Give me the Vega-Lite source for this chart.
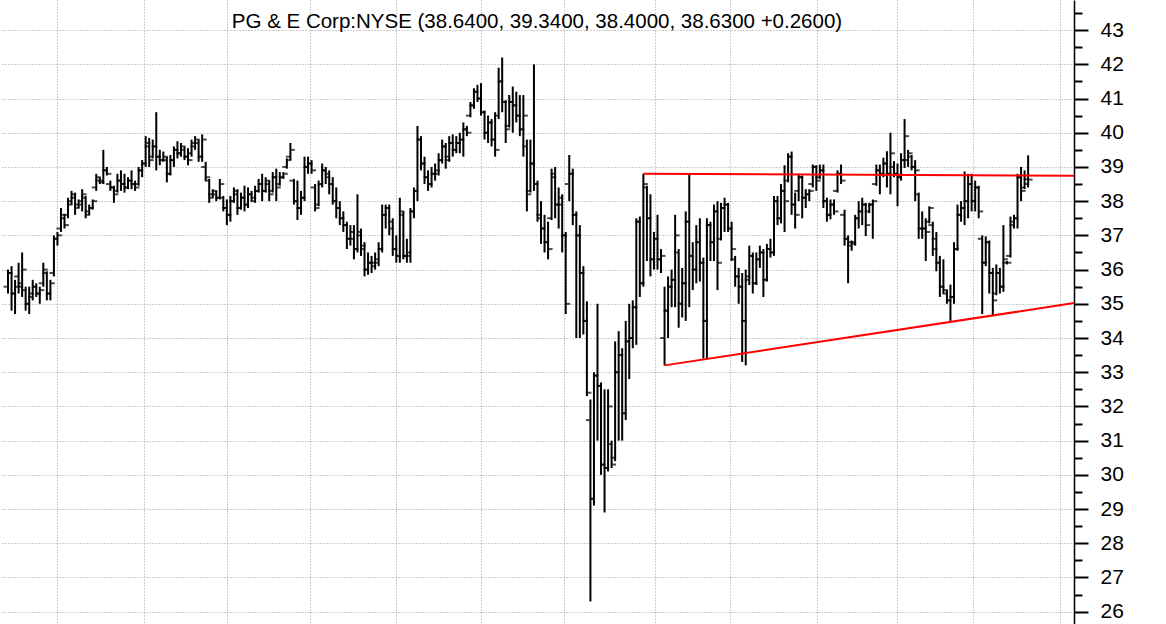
{
  "$schema": "https://vega.github.io/schema/vega-lite/v6.json",
  "width": 1074,
  "height": 624,
  "autosize": "none",
  "padding": {"left": 0, "top": 0, "right": 92, "bottom": 0},
  "background": "white",
  "config": {"view": {"stroke": null}},
  "title": {"text": "PG & E Corp:NYSE (38.6400, 39.3400, 38.4000, 38.6300 +0.2600)", "font": "Liberation Sans", "fontSize": 20.5, "fontWeight": "normal", "color": "black", "anchor": "middle", "offset": -52, "baseline": "bottom"},
  "datasets": {
    "bars": [
{"i":0,"o":35.5,"h":36.0,"l":35.3,"c":35.9},{"i":1,"o":35.9,"h":36.1,"l":34.8,"c":35.3},{"i":2,"o":35.3,"h":35.7,"l":34.7,"c":35.5},{"i":3,"o":35.8,"h":36.2,"l":35.3,"c":35.5},{"i":4,"o":35.6,"h":36.5,"l":35.2,"c":36.0},{"i":5,"o":35.4,"h":35.5,"l":34.8,"c":35.0},{"i":6,"o":35.0,"h":35.5,"l":34.7,"c":35.3},{"i":7,"o":35.2,"h":35.7,"l":35.1,"c":35.5},{"i":8,"o":35.5,"h":35.6,"l":35.2,"c":35.3},{"i":9,"o":35.3,"h":35.5,"l":35.0,"c":35.4},
{"i":10,"o":35.6,"h":36.2,"l":35.5,"c":36.0},{"i":11,"o":35.9,"h":35.95,"l":35.1,"c":35.3},{"i":12,"o":35.3,"h":35.7,"l":35.1,"c":35.6},{"i":13,"o":35.9,"h":37.0,"l":35.8,"c":36.9},{"i":14,"o":36.9,"h":37.1,"l":36.7,"c":37.0},{"i":15,"o":37.2,"h":37.8,"l":37.1,"c":37.6},{"i":16,"o":37.5,"h":37.6,"l":37.2,"c":37.3},{"i":17,"o":37.6,"h":38.1,"l":37.5,"c":37.9},{"i":18,"o":38.0,"h":38.3,"l":37.9,"c":38.2},{"i":19,"o":38.1,"h":38.25,"l":37.6,"c":37.8},
{"i":20,"o":37.9,"h":38.05,"l":37.8,"c":38.0},{"i":21,"o":37.9,"h":38.35,"l":37.7,"c":38.2},{"i":22,"o":38.1,"h":38.15,"l":37.5,"c":37.6},{"i":23,"o":37.7,"h":37.9,"l":37.6,"c":37.8},{"i":24,"o":37.8,"h":38.05,"l":37.75,"c":38.0},{"i":25,"o":38.4,"h":38.8,"l":38.3,"c":38.7},{"i":26,"o":38.6,"h":38.7,"l":38.5,"c":38.55},{"i":27,"o":38.6,"h":39.5,"l":38.5,"c":38.9},{"i":28,"o":38.9,"h":39.0,"l":38.75,"c":38.8},{"i":29,"o":38.5,"h":38.6,"l":38.3,"c":38.4},
{"i":30,"o":38.4,"h":38.45,"l":37.95,"c":38.2},{"i":31,"o":38.3,"h":38.8,"l":38.25,"c":38.6},{"i":32,"o":38.6,"h":38.9,"l":38.3,"c":38.5},{"i":33,"o":38.5,"h":38.8,"l":38.25,"c":38.4},{"i":34,"o":38.4,"h":38.7,"l":38.35,"c":38.6},{"i":35,"o":38.6,"h":38.9,"l":38.35,"c":38.5},{"i":36,"o":38.5,"h":38.6,"l":38.3,"c":38.4},{"i":37,"o":38.5,"h":39.0,"l":38.45,"c":38.9},{"i":38,"o":38.9,"h":39.2,"l":38.7,"c":39.1},{"i":39,"o":39.1,"h":39.9,"l":39.0,"c":39.7},
{"i":40,"o":39.6,"h":39.85,"l":39.0,"c":39.2},{"i":41,"o":39.3,"h":39.8,"l":39.25,"c":39.6},{"i":42,"o":39.6,"h":40.6,"l":38.9,"c":39.3},{"i":43,"o":39.3,"h":39.5,"l":39.05,"c":39.2},{"i":44,"o":39.2,"h":39.45,"l":39.15,"c":39.3},{"i":45,"o":39.2,"h":39.3,"l":38.55,"c":38.8},{"i":46,"o":38.8,"h":39.35,"l":38.75,"c":39.2},{"i":47,"o":39.2,"h":39.6,"l":39.0,"c":39.5},{"i":48,"o":39.5,"h":39.75,"l":39.25,"c":39.4},{"i":49,"o":39.4,"h":39.7,"l":39.3,"c":39.6},
{"i":50,"o":39.5,"h":39.6,"l":39.2,"c":39.3},{"i":51,"o":39.3,"h":39.55,"l":39.05,"c":39.2},{"i":52,"o":39.4,"h":39.8,"l":39.3,"c":39.7},{"i":53,"o":39.6,"h":39.9,"l":39.5,"c":39.8},{"i":54,"o":39.7,"h":39.8,"l":39.15,"c":39.3},{"i":55,"o":39.3,"h":39.95,"l":39.15,"c":39.8},{"i":56,"o":39.0,"h":39.15,"l":38.6,"c":38.7},{"i":57,"o":38.6,"h":38.65,"l":37.95,"c":38.1},{"i":58,"o":38.2,"h":38.35,"l":38.1,"c":38.3},{"i":59,"o":38.2,"h":38.3,"l":38.0,"c":38.1},
{"i":60,"o":38.1,"h":38.65,"l":38.05,"c":38.5},{"i":61,"o":38.1,"h":38.15,"l":37.7,"c":37.8},{"i":62,"o":37.8,"h":38.05,"l":37.3,"c":37.6},{"i":63,"o":37.6,"h":38.15,"l":37.4,"c":38.0},{"i":64,"o":38.0,"h":38.4,"l":37.95,"c":38.3},{"i":65,"o":38.2,"h":38.35,"l":37.6,"c":37.8},{"i":66,"o":37.8,"h":38.25,"l":37.75,"c":38.1},{"i":67,"o":38.1,"h":38.45,"l":37.7,"c":37.9},{"i":68,"o":37.9,"h":38.4,"l":37.8,"c":38.2},{"i":69,"o":38.2,"h":38.3,"l":38.0,"c":38.1},
{"i":70,"o":38.0,"h":38.45,"l":37.95,"c":38.3},{"i":71,"o":38.3,"h":38.65,"l":38.25,"c":38.5},{"i":72,"o":38.5,"h":38.8,"l":38.0,"c":38.3},{"i":73,"o":38.3,"h":38.7,"l":38.25,"c":38.6},{"i":74,"o":38.5,"h":38.6,"l":38.0,"c":38.2},{"i":75,"o":38.3,"h":38.85,"l":38.25,"c":38.7},{"i":76,"o":38.7,"h":38.95,"l":38.0,"c":38.4},{"i":77,"o":38.5,"h":38.85,"l":38.45,"c":38.7},{"i":78,"o":38.7,"h":38.85,"l":38.65,"c":38.8},{"i":79,"o":39.0,"h":39.25,"l":38.95,"c":39.2},
{"i":80,"o":39.3,"h":39.7,"l":39.2,"c":39.5},{"i":81,"o":38.6,"h":38.65,"l":37.9,"c":38.0},{"i":82,"o":38.0,"h":38.6,"l":37.45,"c":37.8},{"i":83,"o":37.8,"h":38.3,"l":37.6,"c":38.1},{"i":84,"o":38.1,"h":39.3,"l":38.0,"c":39.0},{"i":85,"o":39.0,"h":39.3,"l":38.8,"c":39.1},{"i":86,"o":39.1,"h":39.2,"l":38.8,"c":38.9},{"i":87,"o":38.4,"h":38.5,"l":37.7,"c":37.8},{"i":88,"o":37.9,"h":38.6,"l":37.85,"c":38.5},{"i":89,"o":38.5,"h":39.1,"l":38.4,"c":38.9},
{"i":90,"o":38.9,"h":39.0,"l":38.5,"c":38.7},{"i":91,"o":38.8,"h":38.9,"l":38.2,"c":38.5},{"i":92,"o":38.5,"h":38.7,"l":37.9,"c":38.0},{"i":93,"o":38.0,"h":38.4,"l":37.5,"c":37.8},{"i":94,"o":37.8,"h":38.0,"l":37.3,"c":37.5},{"i":95,"o":37.5,"h":37.7,"l":37.1,"c":37.3},{"i":96,"o":37.3,"h":37.4,"l":36.6,"c":36.9},{"i":97,"o":36.9,"h":37.3,"l":36.7,"c":37.1},{"i":98,"o":36.9,"h":37.3,"l":36.3,"c":36.6},{"i":99,"o":36.6,"h":38.2,"l":36.5,"c":37.1},
{"i":100,"o":37.0,"h":37.2,"l":36.4,"c":36.7},{"i":101,"o":36.6,"h":36.8,"l":35.8,"c":36.0},{"i":102,"o":36.0,"h":36.5,"l":35.85,"c":36.2},{"i":103,"o":36.2,"h":36.4,"l":35.9,"c":36.1},{"i":104,"o":36.2,"h":36.5,"l":36.0,"c":36.3},{"i":105,"o":36.2,"h":36.8,"l":36.1,"c":36.6},{"i":106,"o":36.6,"h":37.9,"l":36.5,"c":37.6},{"i":107,"o":37.6,"h":37.9,"l":37.2,"c":37.8},{"i":108,"o":37.8,"h":37.9,"l":37.0,"c":37.2},{"i":109,"o":37.4,"h":37.5,"l":36.4,"c":36.6},
{"i":110,"o":36.6,"h":37.0,"l":36.2,"c":36.4},{"i":111,"o":36.4,"h":38.1,"l":36.2,"c":37.7},{"i":112,"o":37.6,"h":37.7,"l":36.3,"c":36.4},{"i":113,"o":36.4,"h":36.9,"l":36.2,"c":36.5},{"i":114,"o":36.4,"h":37.8,"l":36.2,"c":37.7},{"i":115,"o":37.7,"h":38.4,"l":37.5,"c":38.3},{"i":116,"o":38.3,"h":40.2,"l":38.0,"c":39.8},{"i":117,"o":39.8,"h":39.9,"l":38.9,"c":39.1},{"i":118,"o":39.1,"h":39.3,"l":38.5,"c":38.7},{"i":119,"o":38.7,"h":38.9,"l":38.3,"c":38.5},
{"i":120,"o":38.5,"h":39.0,"l":38.4,"c":38.8},{"i":121,"o":38.8,"h":39.1,"l":38.6,"c":38.9},{"i":122,"o":38.8,"h":39.4,"l":38.75,"c":39.2},{"i":123,"o":39.2,"h":39.8,"l":39.1,"c":39.6},{"i":124,"o":39.6,"h":39.7,"l":38.95,"c":39.2},{"i":125,"o":39.3,"h":39.9,"l":39.15,"c":39.7},{"i":126,"o":39.7,"h":39.95,"l":39.3,"c":39.5},{"i":127,"o":39.5,"h":39.9,"l":39.4,"c":39.7},{"i":128,"o":39.7,"h":40.0,"l":39.4,"c":39.8},{"i":129,"o":39.8,"h":40.3,"l":39.3,"c":40.1},
{"i":130,"o":40.1,"h":40.2,"l":39.9,"c":40.0},{"i":131,"o":40.5,"h":40.9,"l":40.45,"c":40.8},{"i":132,"o":40.8,"h":41.3,"l":40.7,"c":41.2},{"i":133,"o":41.2,"h":41.4,"l":40.9,"c":41.0},{"i":134,"o":41.0,"h":41.45,"l":40.5,"c":40.6},{"i":135,"o":40.6,"h":40.65,"l":39.8,"c":40.0},{"i":136,"o":40.0,"h":40.5,"l":39.7,"c":40.3},{"i":137,"o":40.3,"h":40.4,"l":39.6,"c":39.8},{"i":138,"o":39.8,"h":40.6,"l":39.3,"c":39.5},{"i":139,"o":40.5,"h":41.9,"l":40.4,"c":41.5},
{"i":140,"o":41.5,"h":42.2,"l":40.6,"c":40.9},{"i":141,"o":40.9,"h":40.95,"l":39.7,"c":40.1},{"i":142,"o":40.2,"h":41.1,"l":40.15,"c":40.9},{"i":143,"o":40.9,"h":41.35,"l":40.0,"c":40.8},{"i":144,"o":40.8,"h":41.2,"l":40.3,"c":40.5},{"i":145,"o":40.5,"h":41.1,"l":39.9,"c":40.1},{"i":146,"o":40.1,"h":41.1,"l":39.3,"c":40.5},{"i":147,"o":39.6,"h":39.8,"l":37.7,"c":38.2},{"i":148,"o":38.3,"h":39.8,"l":38.25,"c":39.1},{"i":149,"o":39.1,"h":42.0,"l":38.3,"c":38.5},
{"i":150,"o":38.5,"h":38.6,"l":37.4,"c":37.5},{"i":151,"o":37.6,"h":38.0,"l":36.75,"c":37.2},{"i":152,"o":37.2,"h":37.6,"l":36.5,"c":36.8},{"i":153,"o":36.8,"h":37.4,"l":36.3,"c":36.6},{"i":154,"o":37.5,"h":38.95,"l":37.45,"c":38.7},{"i":155,"o":38.8,"h":39.0,"l":37.5,"c":37.9},{"i":156,"o":37.9,"h":38.4,"l":37.2,"c":38.1},{"i":157,"o":37.9,"h":38.2,"l":36.5,"c":37.0},{"i":158,"o":37.0,"h":37.1,"l":34.7,"c":35.0},{"i":159,"o":38.5,"h":39.35,"l":38.0,"c":38.8},
{"i":160,"o":38.8,"h":38.95,"l":37.3,"c":37.6},{"i":161,"o":37.6,"h":37.7,"l":34.0,"c":37.0},{"i":162,"o":37.0,"h":37.3,"l":34.0,"c":35.9},{"i":163,"o":35.9,"h":36.1,"l":34.1,"c":34.5},{"i":164,"o":34.5,"h":35.07,"l":32.3,"c":32.4},{"i":165,"o":31.6,"h":32.2,"l":26.3,"c":29.3},{"i":166,"o":29.3,"h":33.0,"l":29.1,"c":32.9},{"i":167,"o":32.9,"h":35.0,"l":31.0,"c":32.6},{"i":168,"o":32.6,"h":32.7,"l":30.0,"c":30.3},{"i":169,"o":30.3,"h":32.5,"l":28.9,"c":30.2},
{"i":170,"o":30.2,"h":32.5,"l":30.1,"c":32.0},{"i":171,"o":30.9,"h":31.0,"l":30.2,"c":30.3},{"i":172,"o":30.5,"h":33.9,"l":30.4,"c":33.0},{"i":173,"o":33.0,"h":34.2,"l":31.0,"c":33.5},{"i":174,"o":33.5,"h":33.7,"l":31.0,"c":31.8},{"i":175,"o":31.8,"h":34.5,"l":31.6,"c":33.9},{"i":176,"o":33.9,"h":35.0,"l":32.8,"c":34.0},{"i":177,"o":34.0,"h":35.1,"l":33.7,"c":34.9},{"i":178,"o":34.9,"h":37.5,"l":33.8,"c":37.4},{"i":179,"o":37.4,"h":37.55,"l":35.2,"c":35.6},
{"i":180,"o":35.6,"h":38.8,"l":35.5,"c":38.5},{"i":181,"o":38.4,"h":38.45,"l":36.25,"c":37.5},{"i":182,"o":37.5,"h":38.2,"l":35.8,"c":36.3},{"i":183,"o":36.3,"h":37.1,"l":36.0,"c":36.9},{"i":184,"o":36.9,"h":37.6,"l":36.0,"c":36.3},{"i":185,"o":36.3,"h":36.6,"l":35.9,"c":36.4},{"i":186,"o":34.0,"h":35.5,"l":33.2,"c":34.8},{"i":187,"o":34.8,"h":35.8,"l":34.0,"c":35.5},{"i":188,"o":35.5,"h":36.0,"l":34.9,"c":35.7},{"i":189,"o":35.7,"h":37.6,"l":34.9,"c":37.0},
{"i":190,"o":36.5,"h":36.6,"l":34.3,"c":35.0},{"i":191,"o":35.0,"h":36.05,"l":34.6,"c":35.6},{"i":192,"o":35.6,"h":37.7,"l":34.5,"c":37.4},{"i":193,"o":37.4,"h":38.8,"l":34.9,"c":36.4},{"i":194,"o":36.4,"h":36.8,"l":35.4,"c":36.0},{"i":195,"o":36.0,"h":37.3,"l":35.6,"c":36.8},{"i":196,"o":36.8,"h":37.5,"l":35.65,"c":36.2},{"i":197,"o":36.2,"h":36.35,"l":33.4,"c":34.5},{"i":198,"o":34.5,"h":37.5,"l":33.4,"c":37.3},{"i":199,"o":37.3,"h":37.4,"l":36.25,"c":36.8},
{"i":200,"o":36.8,"h":37.9,"l":36.25,"c":37.7},{"i":201,"o":37.7,"h":38.0,"l":35.4,"c":36.2},{"i":202,"o":36.9,"h":37.95,"l":36.85,"c":37.8},{"i":203,"o":37.8,"h":38.1,"l":37.1,"c":37.9},{"i":204,"o":37.9,"h":37.95,"l":37.1,"c":37.2},{"i":205,"o":37.2,"h":37.4,"l":36.25,"c":36.6},{"i":206,"o":36.3,"h":36.4,"l":35.5,"c":35.8},{"i":207,"o":35.8,"h":36.05,"l":35.0,"c":35.5},{"i":208,"o":35.5,"h":35.9,"l":33.3,"c":34.5},{"i":209,"o":34.5,"h":36.0,"l":33.2,"c":35.8},
{"i":210,"o":35.7,"h":36.7,"l":35.55,"c":36.4},{"i":211,"o":36.4,"h":36.5,"l":35.3,"c":35.6},{"i":212,"o":35.6,"h":36.5,"l":35.55,"c":36.3},{"i":213,"o":36.3,"h":36.7,"l":36.05,"c":36.5},{"i":214,"o":36.5,"h":36.6,"l":35.2,"c":35.7},{"i":215,"o":35.7,"h":36.75,"l":35.65,"c":36.6},{"i":216,"o":36.6,"h":36.9,"l":36.35,"c":36.5},{"i":217,"o":36.5,"h":38.15,"l":36.4,"c":38.0},{"i":218,"o":38.0,"h":38.15,"l":37.3,"c":37.5},{"i":219,"o":37.5,"h":38.5,"l":37.35,"c":38.3},
{"i":220,"o":38.3,"h":39.05,"l":37.1,"c":38.0},{"i":221,"o":38.6,"h":39.4,"l":38.55,"c":39.3},{"i":222,"o":39.3,"h":39.45,"l":37.6,"c":37.9},{"i":223,"o":37.9,"h":38.25,"l":37.2,"c":37.6},{"i":224,"o":38.3,"h":38.8,"l":38.0,"c":38.7},{"i":225,"o":38.7,"h":38.75,"l":37.5,"c":38.1},{"i":226,"o":38.1,"h":38.35,"l":37.8,"c":38.2},{"i":227,"o":38.2,"h":38.35,"l":38.0,"c":38.3},{"i":228,"o":38.5,"h":39.07,"l":38.4,"c":39.0},{"i":229,"o":39.0,"h":39.05,"l":38.3,"c":38.6},
{"i":230,"o":38.7,"h":39.07,"l":38.65,"c":38.9},{"i":231,"o":38.9,"h":39.07,"l":37.8,"c":38.0},{"i":232,"o":38.0,"h":38.1,"l":37.4,"c":37.6},{"i":233,"o":37.6,"h":38.05,"l":37.47,"c":37.9},{"i":234,"o":37.9,"h":38.05,"l":37.6,"c":37.7},{"i":235,"o":38.3,"h":38.9,"l":38.25,"c":38.8},{"i":236,"o":38.8,"h":39.07,"l":38.5,"c":38.6},{"i":237,"o":37.6,"h":37.75,"l":36.7,"c":36.9},{"i":238,"o":36.9,"h":37.0,"l":35.6,"c":36.8},{"i":239,"o":36.7,"h":36.85,"l":36.55,"c":36.75},
{"i":240,"o":36.8,"h":37.6,"l":36.7,"c":37.5},{"i":241,"o":37.5,"h":38.0,"l":37.2,"c":37.7},{"i":242,"o":37.7,"h":38.1,"l":37.3,"c":37.9},{"i":243,"o":37.9,"h":37.95,"l":36.98,"c":37.3},{"i":244,"o":37.7,"h":37.95,"l":37.65,"c":37.9},{"i":245,"o":37.9,"h":38.05,"l":36.9,"c":38.0},{"i":246,"o":38.5,"h":39.07,"l":38.45,"c":38.9},{"i":247,"o":38.9,"h":39.07,"l":38.2,"c":38.8},{"i":248,"o":38.8,"h":39.27,"l":38.7,"c":39.1},{"i":249,"o":39.1,"h":39.46,"l":38.4,"c":38.8},
{"i":250,"o":38.8,"h":40.0,"l":38.2,"c":39.4},{"i":251,"o":39.0,"h":39.17,"l":38.7,"c":38.8},{"i":252,"o":38.8,"h":39.1,"l":37.85,"c":38.7},{"i":253,"o":38.7,"h":39.4,"l":38.6,"c":39.2},{"i":254,"o":39.2,"h":40.4,"l":38.97,"c":39.9},{"i":255,"o":39.2,"h":39.5,"l":39.0,"c":39.4},{"i":256,"o":39.3,"h":39.35,"l":38.9,"c":39.0},{"i":257,"o":39.0,"h":39.2,"l":38.0,"c":38.9},{"i":258,"o":38.2,"h":38.25,"l":36.9,"c":37.2},{"i":259,"o":37.2,"h":37.7,"l":36.9,"c":37.2},
{"i":260,"o":37.2,"h":37.5,"l":36.25,"c":37.1},{"i":261,"o":37.4,"h":37.85,"l":37.35,"c":37.8},{"i":262,"o":37.3,"h":37.4,"l":36.4,"c":36.6},{"i":263,"o":36.9,"h":37.1,"l":35.95,"c":36.2},{"i":264,"o":36.2,"h":36.4,"l":35.2,"c":35.5},{"i":265,"o":35.5,"h":36.3,"l":35.3,"c":35.4},{"i":266,"o":35.3,"h":35.4,"l":35.0,"c":35.1},{"i":267,"o":35.1,"h":35.56,"l":34.5,"c":35.2},{"i":268,"o":35.2,"h":36.8,"l":35.0,"c":36.6},{"i":269,"o":36.6,"h":37.9,"l":36.55,"c":37.6},
{"i":270,"o":37.6,"h":38.0,"l":37.4,"c":37.8},{"i":271,"o":37.8,"h":38.87,"l":37.3,"c":38.0},{"i":272,"o":38.0,"h":38.8,"l":37.5,"c":38.5},{"i":273,"o":38.5,"h":38.8,"l":37.7,"c":38.0},{"i":274,"o":38.0,"h":38.6,"l":37.7,"c":38.4},{"i":275,"o":38.4,"h":38.45,"l":37.5,"c":37.7},{"i":276,"o":36.9,"h":37.0,"l":34.7,"c":36.2},{"i":277,"o":36.2,"h":36.97,"l":36.1,"c":36.8},{"i":278,"o":36.8,"h":36.85,"l":35.3,"c":35.9},{"i":279,"o":35.9,"h":36.05,"l":34.64,"c":35.1},
{"i":280,"o":35.3,"h":36.15,"l":35.25,"c":35.9},{"i":281,"o":35.9,"h":36.05,"l":35.3,"c":35.5},{"i":282,"o":35.5,"h":37.3,"l":35.35,"c":36.3},{"i":283,"o":36.2,"h":36.25,"l":36.15,"c":36.2},{"i":284,"o":36.4,"h":37.55,"l":36.35,"c":37.4},{"i":285,"o":37.3,"h":37.6,"l":37.2,"c":37.5},{"i":286,"o":37.5,"h":38.8,"l":37.2,"c":38.7},{"i":287,"o":38.7,"h":39.0,"l":38.0,"c":38.3},{"i":288,"o":38.4,"h":38.9,"l":38.35,"c":38.5},{"i":289,"o":38.64,"h":39.34,"l":38.40,"c":38.63}
    ],
    "trend": [
      {"s": "upper", "i": 180, "p": 38.8},
      {"s": "upper", "i": 302, "p": 38.74},
      {"s": "lower", "i": 186, "p": 33.2},
      {"s": "lower", "i": 302, "p": 35.02}
    ]
  },
  "resolve": {"axis": {"y": "independent"}},
  "layer": [
    {
      "data": {"name": "bars"},
      "mark": {"type": "rule", "color": "black", "strokeWidth": 2},
      "encoding": {
        "x": {"field": "i", "type": "quantitative",
              "scale": {"domain": [-2.27, 302], "nice": false, "zero": false},
              "axis": {"orient": "bottom", "values": [13.9, 38.5, 62.0, 85.6, 109.9, 134.0, 157.5, 183.3, 204.5, 229.2, 251.8, 273.4, 298.0],
                       "grid": true, "gridColor": "#9a9a9a", "gridDash": [1, 2], "gridWidth": 1,
                       "labels": false, "ticks": false, "domain": false, "title": null}},
        "y": {"field": "l", "type": "quantitative",
              "scale": {"domain": [25.64, 43.88], "nice": false, "zero": false},
              "axis": {"orient": "right", "values": [26,27,28,29,30,31,32,33,34,35,36,37,38,39,40,41,42,43],
                       "title": null, "grid": true, "gridColor": "#9a9a9a", "gridDash": [1, 2], "gridWidth": 1,
                       "tickSize": 14, "tickWidth": 2, "tickColor": "black",
                       "domainColor": "black", "domainWidth": 1.5,
                       "labelFont": "Liberation Sans", "labelFontSize": 21, "labelColor": "black",
                       "labelPadding": 12, "labelAlign": "left"}},
        "y2": {"field": "h"}
      }
    },
    {
      "data": {"name": "bars"},
      "mark": {"type": "tick", "orient": "horizontal", "color": "black", "thickness": 2, "size": 4, "xOffset": -2.5},
      "encoding": {
        "x": {"field": "i", "type": "quantitative"},
        "y": {"field": "o", "type": "quantitative",
              "axis": {"orient": "right", "values": [26.5,27.5,28.5,29.5,30.5,31.5,32.5,33.5,34.5,35.5,36.5,37.5,38.5,39.5,40.5,41.5,42.5,43.5],
                       "title": null, "grid": false, "labels": false, "domain": false,
                       "tickSize": 8, "tickWidth": 2, "tickColor": "black"}}
      }
    },
    {
      "data": {"name": "bars"},
      "mark": {"type": "tick", "orient": "horizontal", "color": "black", "thickness": 2, "size": 4, "xOffset": 2.5},
      "encoding": {
        "x": {"field": "i", "type": "quantitative"},
        "y": {"field": "c", "type": "quantitative", "axis": null}
      }
    },
    {
      "data": {"name": "trend"},
      "mark": {"type": "line", "color": "#ff0000", "strokeWidth": 2},
      "encoding": {
        "x": {"field": "i", "type": "quantitative"},
        "y": {"field": "p", "type": "quantitative", "axis": null},
        "detail": {"field": "s"}
      }
    }
  ]
}
